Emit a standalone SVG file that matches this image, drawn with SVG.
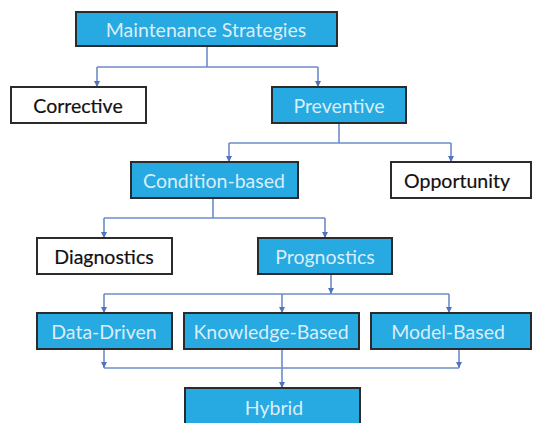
<svg xmlns="http://www.w3.org/2000/svg" width="535" height="423" viewBox="0 0 535 423">
<style>
.b{fill:#27a9e1;stroke:#2b2b2b;stroke-width:2}
.w{fill:#ffffff;stroke:#2b2b2b;stroke-width:2}
.tb{font-family:Lato,"Open Sans",sans-serif;font-size:19.5px;fill:#d9eef9;text-anchor:middle;dominant-baseline:central}
.tw{font-family:Lato,"Open Sans",sans-serif;font-size:19.5px;fill:#111;stroke:#111;stroke-width:0.2;text-anchor:middle;dominant-baseline:central}
.c{fill:none;stroke:#6b8cc8;stroke-width:1.6}
</style>
<defs>
<marker id="a" viewBox="0 0 10 10" refX="10" refY="5" markerWidth="6" markerHeight="6" markerUnits="userSpaceOnUse" orient="auto">
<path d="M0,0L10,5L0,10z" fill="#4f74bd"/>
</marker>
</defs>
<rect width="535" height="423" fill="#fff"/>
<g id="connectors">
<path class="c" d="M207,46V67"/>
<path class="c" d="M97,67H318"/>
<path class="c" d="M97,67V87" marker-end="url(#a)"/>
<path class="c" d="M318,67V87" marker-end="url(#a)"/>
<path class="c" d="M339,123V143"/>
<path class="c" d="M229,143H451"/>
<path class="c" d="M229,143V162" marker-end="url(#a)"/>
<path class="c" d="M451,143V162" marker-end="url(#a)"/>
<path class="c" d="M213,198V218"/>
<path class="c" d="M104,218H325"/>
<path class="c" d="M104,218V238" marker-end="url(#a)"/>
<path class="c" d="M325,218V238" marker-end="url(#a)"/>
<path class="c" d="M331,274V294" marker-end="url(#a)"/>
<path class="c" d="M104,294H449"/>
<path class="c" d="M104,294V313" marker-end="url(#a)"/>
<path class="c" d="M282,294V313" marker-end="url(#a)"/>
<path class="c" d="M449,294V313" marker-end="url(#a)"/>
<path class="c" d="M104,349V368" marker-end="url(#a)"/>
<path class="c" d="M459,349V368" marker-end="url(#a)"/>
<path class="c" d="M104,368H459"/>
<path class="c" d="M282,349V388" marker-end="url(#a)"/>
</g>
<g id="maintenance"><rect class="b" x="76" y="12" width="261" height="34"/><text class="tb" x="206" y="29">Maintenance Strategies</text></g>
<g id="corrective"><rect class="w" x="11" y="87" width="135" height="36"/><text class="tw" x="78" y="105">Corrective</text></g>
<g id="preventive"><rect class="b" x="272" y="87" width="134" height="36"/><text class="tb" x="339" y="105">Preventive</text></g>
<g id="condition"><rect class="b" x="131" y="162" width="167" height="36"/><text class="tb" x="214" y="180">Condition-based</text></g>
<g id="opportunity"><rect class="w" x="391" y="162" width="140" height="36"/><text class="tw" x="457" y="180">Opportunity</text></g>
<g id="diagnostics"><rect class="w" x="37" y="238" width="135" height="36"/><text class="tw" x="104" y="256">Diagnostics</text></g>
<g id="prognostics"><rect class="b" x="258" y="238" width="134" height="36"/><text class="tb" x="325" y="256">Prognostics</text></g>
<g id="datadriven"><rect class="b" x="37" y="313" width="135" height="36"/><text class="tb" x="104" y="331">Data-Driven</text></g>
<g id="knowledge"><rect class="b" x="184" y="313" width="175" height="36"/><text class="tb" x="271" y="331">Knowledge-Based</text></g>
<g id="model"><rect class="b" x="371" y="313" width="160" height="36"/><text class="tb" x="448" y="331">Model-Based</text></g>
<g id="hybrid"><rect class="b" x="185" y="388" width="175" height="40"/><text class="tb" x="274" y="407">Hybrid</text></g>
</svg>
